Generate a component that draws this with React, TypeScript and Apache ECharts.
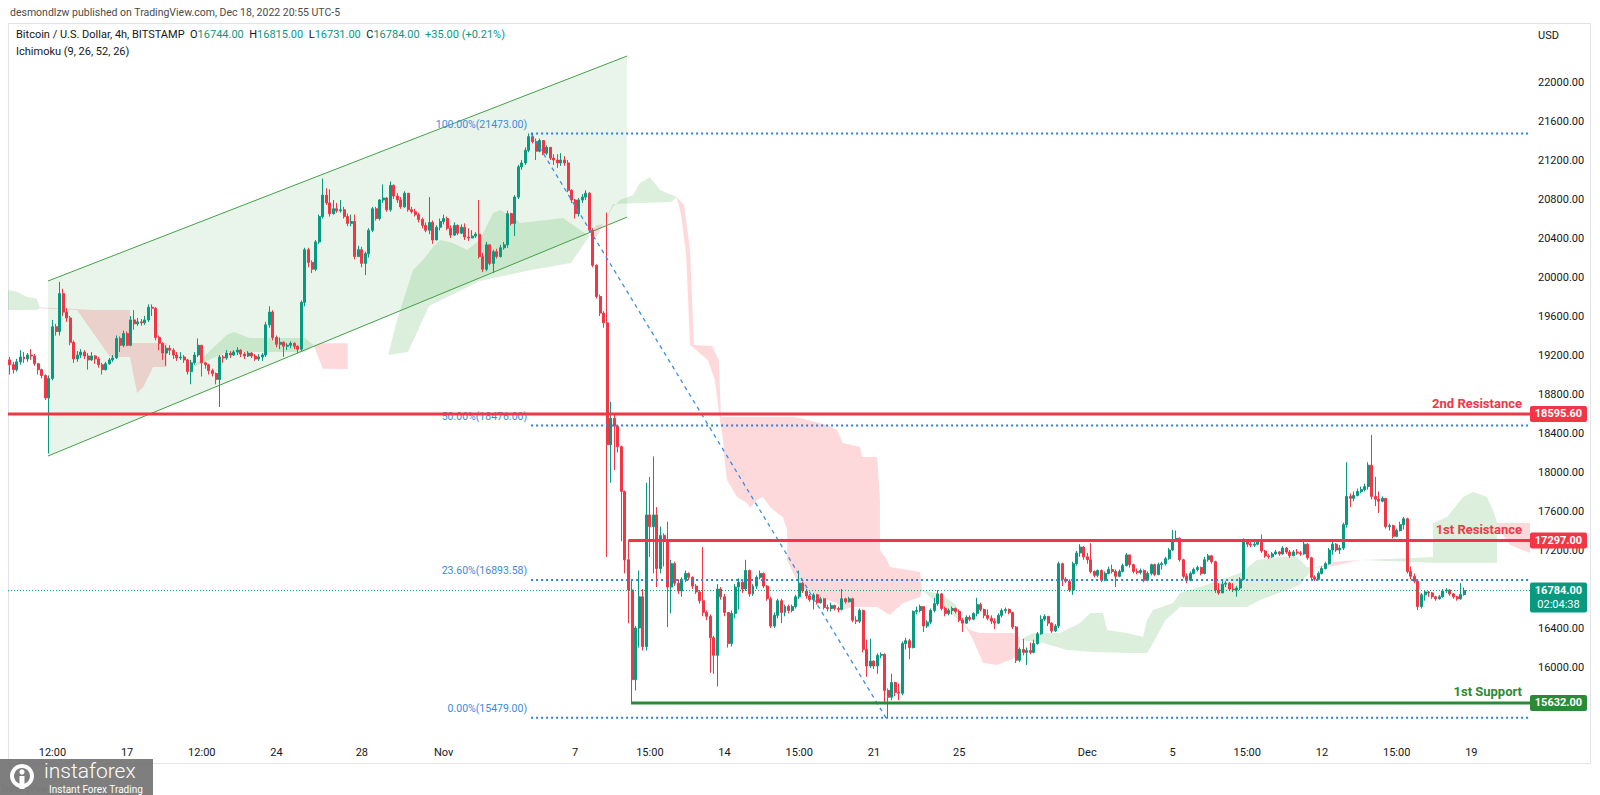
import React, { useEffect, useRef } from "react";
import * as echarts from "echarts";

// ---------------- DATA ----------------
const FIRST_OPEN = 19150;
// [close, high, low] per 4h bar, open = previous close
const BARS: number[][] = [
[19100,19180,19000],[19050,19130,19010],[19130,19160,19030],[19180,19250,19100],[19160,19230,19120],[19200,19220,19130],[19190,19260,19150],[19110,19210,19090],[19050,19120,19000],[18990,19060,18960],
[18760,19000,18740],[18960,18990,18190],[19490,19560,18940],[19440,19520,19400],[19830,19950,19400],[19640,19880,19600],[19580,19680,19540],[19330,19600,19300],[19160,19350,19120],[19200,19240,19130],
[19230,19260,19170],[19190,19250,19160],[19150,19220,19050],[19190,19230,19140],[19160,19200,19110],[19100,19180,19070],[19050,19120,19000],[19110,19130,19040],[19150,19170,19100],[19170,19200,19130],
[19370,19400,19160],[19300,19390,19230],[19420,19450,19280],[19300,19440,19290],[19560,19600,19290],[19520,19660,19460],[19540,19580,19500],[19530,19570,19500],[19560,19600,19510],[19690,19720,19540],
[19680,19720,19600],[19380,19690,19350],[19320,19400,19250],[19220,19330,19150],[19270,19300,19090],[19250,19300,19200],[19200,19270,19160],[19170,19230,19140],[19180,19230,19150],[19150,19200,19120],
[19030,19160,19000],[19120,19150,18900],[19200,19230,19100],[19300,19370,19180],[19120,19300,18980],[19100,19130,19060],[19040,19110,19000],[19010,19060,18980],[18950,19020,18900],[19180,19200,18667],
[19170,19200,19120],[19220,19250,19150],[19200,19240,19170],[19230,19250,19190],[19250,19280,19200],[19210,19260,19180],[19190,19230,19160],[19220,19240,19180],[19190,19230,19170],[19160,19210,19140],
[19180,19210,19140],[19200,19220,19140],[19510,19540,19180],[19640,19700,19480],[19380,19660,19350],[19310,19400,19280],[19330,19380,19260],[19290,19340,19180],[19300,19320,19250],[19320,19340,19270],
[19290,19330,19260],[19260,19300,19220],[19740,19760,19240],[20280,20300,19700],[20150,20300,20100],[20080,20170,20040],[20360,20380,20060],[20620,20640,20340],[20840,21010,20600],[20760,20910,20740],
[20650,20900,20620],[20700,20790,20640],[20680,20760,20660],[20690,20790,20660],[20620,20720,20600],[20550,20650,20520],[20570,20640,20520],[20210,20640,20180],[20280,20320,20250],[20140,20310,20100],
[20240,20260,20020],[20480,20500,20200],[20700,20720,20460],[20600,20720,20580],[20790,20800,20580],[20810,20950,20760],[20690,20820,20670],[20940,20980,20670],[20830,20950,20800],[20790,20860,20760],
[20720,20820,20700],[20860,20880,20710],[20690,20860,20670],[20670,20720,20650],[20640,20700,20620],[20590,20660,20560],[20530,20610,20500],[20480,20560,20460],[20560,20820,20440],[20380,20580,20340],
[20510,20530,20380],[20570,20600,20480],[20600,20640,20540],[20500,20620,20480],[20430,20530,20400],[20530,20560,20420],[20450,20540,20430],[20510,20540,20440],[20410,20550,20380],[20400,20500,20370],
[20420,20480,20400],[20440,20460,20400],[20210,20790,20190],[20080,20250,20050],[20330,20360,20060],[20140,20330,20120],[20260,20280,20040],[20210,20290,20190],[20300,20330,20200],[20330,20360,20280],
[20650,20680,20300],[20550,20660,20530],[20820,20840,20420],[21130,21150,20800],[21170,21200,21100],[21300,21330,21150],[21440,21473,21280],[21390,21470,21370],[21290,21420,21200],[21400,21420,21280],
[21270,21360,21250],[21330,21350,21250],[21220,21330,21200],[21200,21260,21150],[21170,21260,21120],[21200,21270,21140],[21170,21240,21140],[20890,21200,20870],[20790,20900,20760],[20650,20800,20600],
[20790,20810,20620],[20820,20850,20760],[20860,20890,20790],[20480,20870,20460],[20120,20500,20100],[19800,20130,19780],[19630,19820,19600],[19530,19650,19480],[18280,20660,17130],[18550,18720,17890],
[18470,18600,18020],[18260,18480,18200],[17800,18270,17290],[17100,17810,16960],[16790,17300,16450],[15870,16900,15630],[16400,16420,15760],[16720,16990,16200],[16210,16800,16170],[17560,17890,16170],
[17440,17950,17130],[17560,18160,16960],[17010,17640,16820],[17350,17440,16960],[17300,17370,17030],[16820,17490,16410],[17060,17100,16550],[16860,17080,16830],[16780,16900,16750],[16900,16920,16720],
[16960,16990,16870],[16920,16970,16890],[16830,16930,16800],[16770,16850,16750],[16680,16790,16650],[16560,17230,16520],[16520,16580,16480],[16300,16540,15940],[16120,16320,15930],[16800,16850,15800],
[16720,16820,16690],[16560,16750,16520],[16240,16560,16200],[16550,16580,16210],[16820,16850,16500],[16870,16910,16590],[16800,16880,16760],[16990,17100,16780],[16750,17000,16720],[16830,16850,16730],
[16920,16940,16800],[16960,16990,16900],[16830,16970,16810],[16700,16840,16680],[16420,16720,16400],[16530,16560,16400],[16680,16700,16500],[16560,16700,16450],[16620,16640,16520],[16580,16640,16550],
[16620,16640,16560],[16720,16740,16600],[16860,16990,16700],[16780,16870,16760],[16730,16800,16700],[16690,16750,16670],[16740,16760,16590],[16660,16750,16640],[16700,16720,16650],[16610,16710,16590],
[16600,16640,16570],[16630,16660,16570],[16600,16640,16580],[16590,16620,16560],[16700,16800,16580],[16670,16710,16650],[16700,16720,16660],[16480,16710,16460],[16470,16520,16440],[16580,16600,16450],
[16180,16590,16150],[16010,16280,15900],[16060,16290,15990],[16010,16070,15980],[16120,16140,15930],[16130,16150,16090],[15760,16140,15640],[15690,15780,15479],[15840,15930,15660],[15740,15850,15700],
[15730,15830,15660],[16240,16260,15710],[16270,16300,16180],[16200,16290,16080],[16570,16580,16190],[16580,16620,16540],[16620,16640,16560],[16420,16610,16360],[16460,16480,16400],[16580,16600,16440],
[16650,16710,16560],[16750,16790,16630],[16600,16760,16580],[16550,16620,16520],[16580,16600,16530],[16600,16620,16540],[16570,16610,16550],[16480,16590,16460],[16450,16500,16360],[16510,16530,16440],
[16490,16530,16470],[16550,16560,16480],[16640,16710,16520],[16590,16660,16570],[16530,16600,16500],[16500,16590,16480],[16470,16530,16440],[16450,16500,16390],[16530,16550,16440],[16580,16600,16510],
[16590,16610,16550],[16560,16600,16540],[16410,16560,16390],[16070,16420,16040],[16180,16200,16050],[16150,16290,16120],[16170,16200,16020],[16150,16250,16130],[16240,16280,16140],[16340,16360,16230],
[16490,16530,16330],[16520,16540,16470],[16450,16520,16420],[16370,16460,16350],[16420,16440,16360],[17060,17080,16400],[16900,17070,16830],[16880,16920,16860],[16790,16900,16770],[17060,17080,16740],
[17170,17190,17040],[17230,17260,17130],[17130,17240,17100],[17100,17170,17060],[16980,17270,16960],[16940,16990,16920],[16990,17000,16920],[16890,17000,16870],[16960,16980,16880],[17000,17030,16950],
[16980,17050,16960],[16930,17000,16820],[16980,17000,16920],[17040,17060,16970],[17150,17170,17030],[17050,17150,17020],[16980,17060,16960],[16970,17010,16950],[16990,17010,16950],[16890,17000,16870],
[16960,16980,16880],[17050,17060,16940],[16950,17060,16930],[17050,17070,16940],[17060,17080,17000],[17110,17130,17040],[17200,17220,17100],[17310,17405,17190],[17320,17400,17290],[17100,17330,17080],
[16930,17110,16910],[16890,16960,16860],[16960,16980,16880],[17000,17020,16950],[17020,17040,16980],[16960,17030,16940],[17100,17130,16950],[17140,17160,17080],[17080,17150,17060],[16790,17090,16760],
[16760,16860,16740],[16850,16900,16780],[16860,16880,16820],[16800,16870,16780],[16790,16860,16770],[16810,16830,16720],[16900,16920,16790],[17300,17320,16890],[17260,17300,17230],[17250,17280,17230],
[17260,17280,17230],[17280,17300,17250],[17190,17360,17170],[17140,17200,17120],[17130,17160,17110],[17160,17180,17120],[17180,17200,17150],[17160,17190,17140],[17220,17240,17150],[17180,17230,17160],
[17140,17200,17120],[17180,17200,17140],[17170,17210,17150],[17160,17190,17140],[17260,17310,17150],[17120,17270,17100],[16920,17130,16900],[16900,16940,16880],[16960,16980,16890],[17010,17030,16950],
[17060,17080,17000],[17200,17220,17050],[17260,17290,17150],[17200,17270,17180],[17220,17250,17160],[17460,17480,17200],[17750,18100,17430],[17730,17780,17640],[17760,17800,17700],[17800,17830,17750],
[17820,17850,17780],[17850,17880,17800],[18070,18100,17820],[17750,18380,17720],[17720,17950,17650],[17700,17800,17580],[17730,17750,17690],[17440,17720,17420],[17450,17470,17400],[17340,17460,17320],
[17400,17420,17330],[17460,17490,17390],[17520,17540,17410],[16980,17530,16960],[16930,17030,16900],[16880,16960,16860],[16620,16890,16585],[16740,16760,16600],[16770,16790,16680],[16760,16780,16720],
[16720,16770,16700],[16700,16730,16680],[16720,16740,16690],[16780,16800,16710],[16790,16810,16760],[16750,16800,16730],[16720,16760,16700],[16700,16730,16680],[16744,16860,16690],[16784,16815,16731],
];

const SLOTS = 428; // bars + empty space on the right
const X_TICKS: [number, string][] = [
  [12, "12:00"], [33, "17"], [54, "12:00"], [75, "24"], [99, "28"], [122, "Nov"], [159, "7"], [180, "15:00"],
  [201, "14"], [222, "15:00"], [243, "21"], [267, "25"], [303, "Dec"], [327, "5"], [348, "15:00"], [369, "12"],
  [390, "15:00"], [411, "19"],
];
const HIDDEN_Y_TICKS = [15200, 15600, 16800, 22400];

const RES2 = 18595.6;
const RES1 = 17297;
const SUP1 = 15632;
const LAST = 16784;
const COUNTDOWN = "02:04:38";
const RES1_START = 174;
const SUP1_START = 174.7;
const FIB_START = 146.6;
const FIB_LEVELS: [string, number][] = [["100.00%", 21473], ["50.00%", 18476], ["23.60%", 16893.58], ["0.00%", 15479]];
const FIB_TREND: number[][] = [[146.6, 21473], [246.4, 15479]];
const CHANNEL_UP: number[][] = [[10.74, 19959], [173.6, 22267]];
const CHANNEL_LO: number[][] = [[10.74, 18164], [173.6, 20615]];

// Ichimoku cloud outlines: [bar index, price]
const G1_TOP = [[-0.5,19867],[2,19850],[3.5,19820],[5,19795],[7.5,19780],[8.5,19690]];
const G1_BOT = [[-0.5,19662],[7.5,19662],[8.5,19680]];
const R1_TOP = [[8.5,19690],[23.4,19662],[33.8,19662],[33.8,19323],[44.2,19323]];
const R1_BOT = [[8.5,19680],[18.9,19662],[28.2,19180],[33.8,19180],[35.8,18810],[37.5,18870],[40.3,19077],[44.2,19077]];
const G2_TOP = [[51.5,19077],[61,19405],[63,19436],[67.5,19374],[83,19374],[85.5,19300]];
const G2_BOT = [[51.5,19077],[61,19231],[83,19231],[85.5,19300]];
const R2_TOP = [[85.5,19300],[87,19320],[95,19320]];
const R2_BOT = [[85.5,19300],[88,19060],[95,19056]];
const G3_TOP = [[106.4,19200],[108.9,19559],[113.4,20072],[116.2,20174],[119,20308],[121,20380],[124.6,20349],[128.6,20277],[132.2,20380],[135.9,20656],[137.9,20687],[141.5,20615],[143.5,20554],[151.1,20585],[155.6,20605],[160.4,20482],[163,20420]];
const G3_BOT = [[106.4,19200],[112,19231],[117.9,19703],[132.2,19959],[146.6,20072],[157.8,20144],[163,20420]];
const RT_TOP = [[163,20420],[165,20533],[166.8,20540]];
const RT_BOT = [[163,20420],[165,20410],[166.8,20540]];
const G4_TOP = [[166.8,20540],[169.6,20718],[171.6,20790],[175.3,20841],[177.2,20964],[180,21026],[182.9,20892],[184.8,20862],[187.6,20821]];
const G4_BOT = [[166.8,20540],[169.6,20750],[186,20770],[187.6,20821]];
const R3_TOP = [[187.6,20821],[189.6,20738],[191.3,20277],[192.4,19303],[197.5,19292],[199.4,19149],[200,18564],[220.3,18564],[222.2,18554],[229.8,18482],[232.6,18431],[234.3,18298],[239.1,18257],[239.7,18154],[243.9,18154],[244.7,17713],[244.7,17200],[246.7,17098],[247.5,17026],[256,16975],[256.5,16790]];
const R3_BOT = [[187.6,20821],[188.8,20636],[190.2,20226],[191.3,19303],[196.3,19149],[198.3,18944],[199.7,18533],[200.6,18328],[201.1,18092],[201.7,17918],[204.5,17744],[207.3,17682],[208.2,17631],[210.1,17713],[211.8,17744],[213.8,17641],[215.8,17579],[217.4,17539],[218.6,17405],[218.6,17098],[220.3,16964],[222.2,16821],[225.9,16759],[229.8,16687],[232.6,16657],[234.3,16585],[237.1,16616],[243.9,16616],[247.5,16534],[251.2,16657],[256,16718],[256.5,16790]];
const G5_TOP = [[256.5,16790],[262,16740],[266,16640],[268.1,16460]];
const G5_BOT = [[256.5,16790],[260,16680],[264,16560],[268.1,16460]];
const R4_TOP = [[268.1,16460],[270,16380],[272.8,16349],[283.2,16349],[284.1,16277]];
const R4_BOT = [[268.1,16460],[270.9,16277],[273.7,16041],[277.6,16021],[283.2,16103],[284.1,16277]];
const G6_TOP = [[284.1,16277],[287.7,16349],[295.3,16349],[301,16451],[303.8,16554],[307.4,16554],[308.6,16380],[314.2,16349],[318.7,16308],[319.8,16482],[321.5,16585],[327.1,16657],[329.1,16759],[334.7,16821],[346,16964],[350.7,17098],[357.2,17128],[362,17128],[364.8,17026],[366.5,17016]];
const G6_BOT = [[284.1,16277],[290.6,16246],[297.3,16174],[304.6,16154],[314.2,16144],[319.8,16144],[321.5,16246],[325,16482],[329.1,16616],[347.9,16616],[351.6,16687],[362.8,16841],[366.5,17016]];
const R5_TOP = [[366.5,17016],[372.1,17077],[379.7,17098]];
const R5_BOT = [[366.5,17016],[372.1,17036],[379.7,17098]];
const G8_TOP = [[379.7,17098],[394.6,17118],[400.2,17128],[400.2,17477],[404.2,17539],[408.7,17744],[411.5,17795],[415.4,17744],[417.1,17610],[418.2,17477]];
const G8_BOT = [[379.7,17098],[400.2,17070],[418.2,17070]];
const R6_TOP = [[418.2,17477],[427.5,17477]];
const R6_BOT = [[418.2,17440],[421.9,17252],[427.5,17169]];

const CLOUD_PARTS: [string, number[][], number[][]][] = [
  ["g", G1_TOP, G1_BOT], ["r", R1_TOP, R1_BOT], ["g", G2_TOP, G2_BOT], ["r", R2_TOP, R2_BOT],
  ["g", G3_TOP, G3_BOT], ["r", RT_TOP, RT_BOT], ["g", G4_TOP, G4_BOT], ["r", R3_TOP, R3_BOT],
  ["g", G5_TOP, G5_BOT], ["r", R4_TOP, R4_BOT], ["g", G6_TOP, G6_BOT], ["r", R5_TOP, R5_BOT],
  ["g", G8_TOP, G8_BOT], ["r", R6_TOP, R6_BOT],
];

// ---------------- STYLE ----------------
const UP = "#089981";
const DOWN = "#f23645";
const SUP_GREEN = "#2b8a35";
const FIB_BLUE = "#2a7fe0";
const FONT = "Roboto, 'Liberation Sans', sans-serif";

function buildCandles() {
  const out: number[][] = [];
  let prev = FIRST_OPEN;
  for (const [c, h, l] of BARS) {
    const o = prev;
    out.push([o, c, Math.min(l, o, c), Math.max(h, o, c)]);
    prev = c;
  }
  return out;
}

function mapper(params: any, api: any) {
  const x0 = api.coord([0, LAST])[0];
  const bw = api.size([1, 0])[0];
  const X = (i: number) => x0 + i * bw;
  const Y = (p: number) => api.coord([0, p])[1];
  const cs = params.coordSys;
  return { X, Y, L: cs.x, R: cs.x + cs.width };
}

function renderUnder(params: any, api: any) {
  const { X, Y } = mapper(params, api);
  const P = (pt: number[]) => [X(pt[0]), Y(pt[1])];
  const children: any[] = [];
  children.push({
    type: "polygon",
    shape: { points: [CHANNEL_UP[0], CHANNEL_UP[1], CHANNEL_LO[1], CHANNEL_LO[0]].map(P) },
    style: { fill: "rgba(76,175,80,0.12)" },
  });
  for (const [c, top, bot] of CLOUD_PARTS) {
    const pts = [...top.map(P), ...bot.slice().reverse().map(P)];
    children.push({
      type: "polygon",
      shape: { points: pts },
      style: { fill: c === "g" ? "rgba(76,175,80,0.2)" : "rgba(242,54,69,0.19)" },
    });
  }
  return { type: "group", children };
}

function txt(text: string, x: number, y: number, fill: string, font: string, align: string, vAlign: string) {
  return {
    type: "text",
    style: { text, x, y, fill, font, align, verticalAlign: vAlign, textAlign: align, textVerticalAlign: vAlign },
  };
}

function renderOver(params: any, api: any) {
  const { X, Y, L, R } = mapper(params, api);
  const kids: any[] = [];
  const line = (x1: number, y1: number, x2: number, y2: number, stroke: string, w: number, dash?: number[]) =>
    kids.push({ type: "line", shape: { x1, y1, x2, y2 }, style: { stroke, lineWidth: w, lineDash: dash } });

  // channel borders
  line(X(CHANNEL_UP[0][0]), Y(CHANNEL_UP[0][1]), X(CHANNEL_UP[1][0]), Y(CHANNEL_UP[1][1]), "#43a047", 1);
  line(X(CHANNEL_LO[0][0]), Y(CHANNEL_LO[0][1]), X(CHANNEL_LO[1][0]), Y(CHANNEL_LO[1][1]), "#43a047", 1);

  // fib retracement
  line(X(FIB_TREND[0][0]), Y(FIB_TREND[0][1]), X(FIB_TREND[1][0]), Y(FIB_TREND[1][1]), "#3a8ee6", 1.3, [4, 4]);
  for (const [pct, v] of FIB_LEVELS) {
    line(X(FIB_START), Y(v), R, Y(v), FIB_BLUE, 2, [2, 3]);
    kids.push(txt(`${pct}(${v.toFixed(2)})`, X(FIB_START) - 4, Y(v) - 9, "#3b8ae0", `10.5px ${FONT}`, "right", "middle"));
  }

  // current price line
  line(L, Y(LAST), R, Y(LAST), UP, 1, [1, 2]);

  // support / resistance
  line(L, Y(RES2), R, Y(RES2), DOWN, 3);
  line(X(RES1_START), Y(RES1), R, Y(RES1), DOWN, 3);
  line(X(SUP1_START), Y(SUP1), R, Y(SUP1), SUP_GREEN, 3);
  kids.push(txt("2nd Resistance", R - 8, Y(RES2) - 4, DOWN, `bold 13px ${FONT}`, "right", "bottom"));
  kids.push(txt("1st Resistance", R - 8, Y(RES1) - 5, DOWN, `bold 13px ${FONT}`, "right", "bottom"));
  kids.push(txt("1st Support", R - 8, Y(SUP1) - 5, SUP_GREEN, `bold 13px ${FONT}`, "right", "bottom"));

  // axis price boxes
  const box = (v: number, fill: string, label: string) => {
    kids.push({ type: "rect", shape: { x: R, y: Y(v) - 8, width: 57, height: 16, r: 2 }, style: { fill } });
    kids.push(txt(label, R + 28.5, Y(v), "#ffffff", `bold 11px ${FONT}`, "center", "middle"));
  };
  box(RES2, DOWN, RES2.toFixed(2));
  box(RES1, DOWN, RES1.toFixed(2));
  box(SUP1, SUP_GREEN, SUP1.toFixed(2));
  kids.push({ type: "rect", shape: { x: R, y: Y(LAST) - 8, width: 57, height: 30, r: 2 }, style: { fill: UP } });
  kids.push(txt(LAST.toFixed(2), R + 28.5, Y(LAST) - 0.5, "#ffffff", `bold 11px ${FONT}`, "center", "middle"));
  kids.push(txt(COUNTDOWN, R + 28.5, Y(LAST) + 14, "#ffffff", `11px ${FONT}`, "center", "middle"));

  return { type: "group", children: kids };
}

const TICK_MAP = new Map<number, string>(X_TICKS);

export default function App() {
  const ref = useRef<HTMLDivElement>(null);
  useEffect(() => {
    const chart = echarts.init(ref.current!, null, { renderer: "svg" });
    const cats = Array.from({ length: SLOTS }, (_, i) => String(i));
    const option: any = {
      animation: false,
      backgroundColor: "#ffffff",
      grid: { left: 8, right: 70, top: 25, height: 720 },
      xAxis: {
        type: "category",
        data: cats,
        boundaryGap: true,
        axisLine: { show: false },
        axisTick: { show: false },
        splitLine: { show: false },
        axisLabel: {
          interval: (idx: number) => TICK_MAP.has(idx),
          formatter: (v: string) => TICK_MAP.get(Number(v)) ?? "",
          color: "#131722",
          fontSize: 11,
          fontFamily: FONT,
          margin: 2,
        },
      },
      yAxis: {
        type: "value",
        position: "right",
        min: 15200,
        max: 22585,
        interval: 400,
        splitLine: { show: false },
        axisLine: { show: false },
        axisTick: { show: false },
        axisLabel: {
          showMinLabel: false,
          showMaxLabel: false,
          formatter: (v: number) => (HIDDEN_Y_TICKS.includes(v) || v > 22100 ? "" : v.toFixed(2)),
          color: "#131722",
          fontSize: 11,
          fontFamily: FONT,
          margin: 8,
        },
      },
      series: [
        { type: "custom", name: "under", z: 1, clip: true, renderItem: renderUnder, data: [[0, LAST]], silent: true },
        {
          type: "candlestick",
          name: "BTCUSD",
          z: 2,
          barWidth: "70%",
          data: buildCandles(),
          itemStyle: { color: UP, color0: DOWN, borderColor: UP, borderColor0: DOWN, borderWidth: 1 },
        },
        { type: "custom", name: "over", z: 3, clip: false, renderItem: renderOver, data: [[0, LAST]], silent: true },
      ],
      graphic: [
        { type: "rect", shape: { x: 8.5, y: 23.5, width: 1582, height: 740 }, style: { fill: "none", stroke: "#e0e3eb", lineWidth: 1 }, z: 0, silent: true },
        { type: "text", left: 10, top: 7, style: { text: "desmondlzw published on TradingView.com, Dec 18, 2022 20:55 UTC-5", fill: "#4a4a4a", font: `10.5px ${FONT}` } },
        {
          type: "text", left: 16, top: 29, z: 10,
          style: {
            text: "{t|Bitcoin / U.S. Dollar, 4h, BITSTAMP}  {t|O}{v|16744.00}  {t|H}{v|16815.00}  {t|L}{v|16731.00}  {t|C}{v|16784.00}  {v|+35.00 (+0.21%)}",
            font: `11px ${FONT}`,
            rich: { t: { fill: "#131722", fontSize: 11, fontFamily: FONT }, v: { fill: UP, fontSize: 11, fontFamily: FONT } },
          },
        },
        { type: "text", left: 16, top: 46, z: 10, style: { text: "Ichimoku (9, 26, 52, 26)", fill: "#131722", font: `11px ${FONT}` } },
        { type: "text", left: 1538, top: 30, z: 10, style: { text: "USD", fill: "#131722", font: `11px ${FONT}` } },
        // logo
        { type: "text", left: 1, top: 784, z: 19, style: { text: "TradingView", fill: "rgba(60,60,60,0.45)", font: `8.5px ${FONT}` } },
        { type: "rect", z: 20, shape: { x: 0, y: 759, width: 153, height: 36 }, style: { fill: "rgba(112,112,112,0.9)" } },
        { type: "ring", z: 21, shape: { cx: 22, cy: 776, r: 12, r0: 8 }, style: { fill: "#ffffff" } },
        { type: "circle", z: 21, shape: { cx: 22, cy: 772, r: 2.6 }, style: { fill: "#ffffff" } },
        { type: "rect", z: 21, shape: { x: 19.5, y: 776, width: 5, height: 13 }, style: { fill: "#ffffff" } },
        { type: "text", z: 21, left: 44, top: 760, style: { text: "instaforex", fill: "#ffffff", font: `300 21px ${FONT}` } },
        { type: "text", z: 21, left: 49, top: 784, style: { text: "Instant Forex Trading", fill: "#ffffff", font: `10px ${FONT}` } },
      ],
    };
    chart.setOption(option);
    return () => chart.dispose();
  }, []);
  return <div ref={ref} style={{ width: 1600, height: 795, position: "absolute", left: 0, top: 0 }} />;
}
